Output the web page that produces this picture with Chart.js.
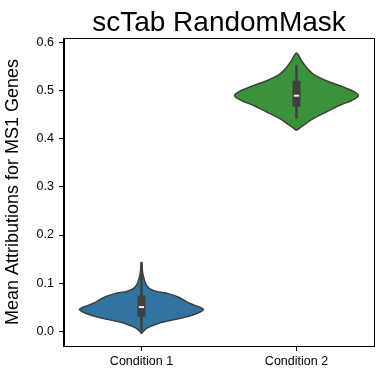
<!DOCTYPE html>
<html>
<head>
<meta charset="utf-8">
<script src="https://cdn.jsdelivr.net/npm/chart.js@4.4.1/dist/chart.umd.min.js"></script>
<style>
  html, body { margin: 0; padding: 0; background: #fff; }
  #wrap { width: 382px; height: 378px; }
</style>
</head>
<body>
<div id="wrap"><canvas id="violinChart"></canvas></div>
<script>
const categories = ['Condition 1', 'Condition 2'];
const colors = ['#3274a1', '#3a923a'];
const yTicks = [0.0, 0.1, 0.2, 0.3, 0.4, 0.5, 0.6];

// density profile of each violin (value, relative width)
const c1Values  = [-0.005, 0.0055, 0.016, 0.024, 0.033, 0.045, 0.054, 0.061, 0.071, 0.078, 0.0825, 0.0885, 0.0954, 0.105, 0.12, 0.143];
const c1Density = [0, 0.08, 0.27, 0.53, 0.81, 1.0, 0.85, 0.73, 0.59, 0.43, 0.24, 0.13, 0.08, 0.05, 0.02, 0];
const c2Values  = [0.4176, 0.428, 0.442, 0.456, 0.4695, 0.480, 0.490, 0.5007, 0.511, 0.521, 0.535, 0.549, 0.563, 0.579];
const c2Density = [0, 0.11, 0.27, 0.48, 0.69, 0.89, 1.0, 0.89, 0.69, 0.48, 0.27, 0.16, 0.08, 0];

// inner box: whisker low, q1, median, q3, whisker high
const whiskerLow  = [0.000, 0.442];
const q1          = [0.030, 0.467];
const medians     = [0.050, 0.490];
const q3          = [0.074, 0.521];
const whiskerHigh = [0.144, 0.554];

const halfWidth = 0.4;

function violinPoints(center, values, density) {
    const right = values.map((v, i) => ({ x: center + density[i] * halfWidth, y: v }));
    const left = values.map((v, i) => ({ x: center - density[i] * halfWidth, y: v })).reverse();
    return right.concat(left.slice(1));
}

const datasets = [];
const profiles = [[c1Values, c1Density], [c2Values, c2Density]];
profiles.forEach((p, i) => {
    datasets.push({
        data: violinPoints(i, p[0], p[1]),
        borderColor: '#3f3f3f',
        borderWidth: 1.5,
        backgroundColor: colors[i],
        fill: 'shape',
        tension: 0.3,
        order: 10
    });
});
categories.forEach((c, i) => {
    datasets.push({
        data: [{ x: i, y: whiskerLow[i] }, { x: i, y: whiskerHigh[i] }],
        borderColor: '#3f3f3f',
        borderWidth: 2.5,
        order: 5
    });
    datasets.push({
        data: [{ x: i, y: q1[i] }, { x: i, y: q3[i] }],
        borderColor: '#3f3f3f',
        borderWidth: 8,
        order: 4
    });
    datasets.push({
        data: [{ x: i - 0.017, y: medians[i] }, { x: i + 0.017, y: medians[i] }],
        borderColor: '#f0f0f0',
        borderWidth: 2,
        order: 1
    });
});

const frame = {
    id: 'frame',
    afterDraw(chart) {
        const a = chart.chartArea;
        const ctx = chart.ctx;
        ctx.save();
        ctx.strokeStyle = '#000';
        ctx.lineWidth = 1;
        ctx.strokeRect(Math.round(a.left) + 0.5, Math.round(a.top) + 0.5, Math.round(a.right - a.left), Math.round(a.bottom - a.top));
        ctx.restore();
    }
};

const font = 'Liberation Sans, Arial, Helvetica, sans-serif';
Chart.defaults.font.family = font;
Chart.defaults.color = '#000';

new Chart(document.getElementById('violinChart').getContext('2d'), {
    type: 'scatter',
    data: { datasets: datasets },
    options: {
        responsive: true,
        maintainAspectRatio: false,
        animation: false,
        showLine: true,
        elements: { point: { radius: 0, hoverRadius: 0 } },
        layout: { padding: { left: 2, right: 8, top: 0, bottom: 6 } },
        plugins: {
            legend: { display: false },
            tooltip: { enabled: false }
        },
        scales: {
            x: {
                type: 'linear',
                min: -0.5,
                max: 1.5,
                afterBuildTicks: s => { s.ticks = categories.map((c, i) => ({ value: i })); },
                ticks: { callback: v => categories[v], font: { size: 12.5 }, padding: 3, maxRotation: 0 },
                grid: { drawOnChartArea: false, tickLength: 5, color: '#000' },
                border: { color: '#000' }
            },
            top: {
                type: 'linear',
                position: 'top',
                min: -0.5,
                max: 1.5,
                ticks: { display: false },
                grid: { display: false },
                border: { display: false },
                title: { display: true, text: 'scTab RandomMask', font: { size: 28, lineHeight: 0.5 }, padding: { top: 16, bottom: 0 } }
            },
            y: {
                min: -0.031,
                max: 0.61,
                afterBuildTicks: s => { s.ticks = yTicks.map(v => ({ value: v })); },
                ticks: { callback: v => v.toFixed(1), font: { size: 12.5 }, padding: 5 },
                grid: { drawOnChartArea: false, tickLength: 5, color: '#000' },
                border: { color: '#000' },
                title: { display: true, text: 'Mean Attributions for MS1 Genes', font: { size: 18 }, padding: { top: 0, bottom: 8 } }
            }
        }
    },
    plugins: [frame]
});
</script>
</body>
</html>
